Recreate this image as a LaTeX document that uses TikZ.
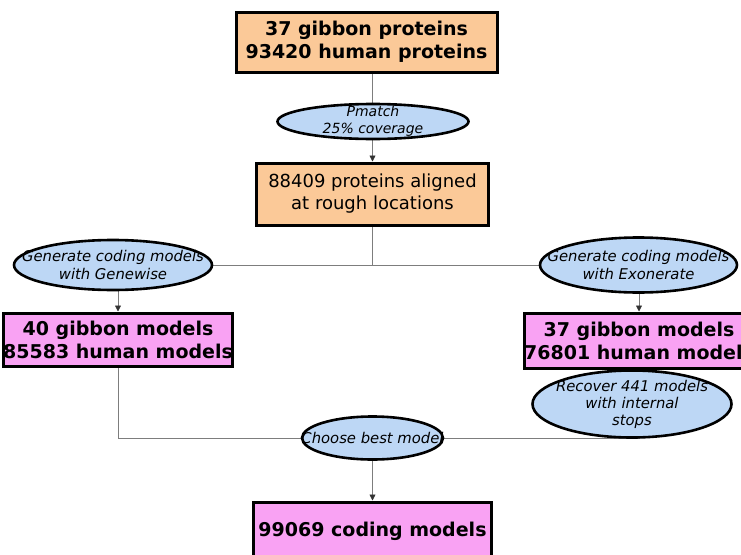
\documentclass[tikz,border=0pt]{standalone}
\usepackage{fontspec}
\setmainfont{DejaVu Sans}[ItalicFont={DejaVu Sans Oblique},BoldFont={DejaVu Sans Bold}]
\usetikzlibrary{positioning, arrows.meta, shapes.geometric, backgrounds}
\definecolor{inputfill}{RGB}{251,201,152}
\definecolor{modelfill}{RGB}{249,162,243}
\definecolor{stepfill}{RGB}{189,215,245}
\definecolor{linkgray}{RGB}{125,125,125}
\tikzset{
  gbbox/.style   = {draw, line width=3pt, fill=inputfill, align=center,
                    inner sep=0pt, font=\bfseries\fontsize{19}{23}\selectfont},
  gbmodel/.style = {gbbox, fill=modelfill},
  gbstep/.style  = {draw, ellipse, line width=2.6pt, fill=stepfill, align=center,
                    inner xsep=-40pt, inner ysep=-12pt,
                    font=\itshape\fontsize{14.8}{18}\selectfont},
  gblink/.style  = {draw=linkgray, line width=0.8pt},
  gbarrow/.style = {gblink, -{Triangle[length=6pt,width=6pt,color=black!80]}}
}

\begin{document}
\begin{tikzpicture}[x=1pt, y=-1pt]
  \useasboundingbox (0,0) rectangle (741,554);

  \node[gbbox, minimum width=261pt, minimum height=60pt] (inp) at (366.5,42)
        {37 gibbon proteins\\93420 human proteins};
  \node[gbstep, font=\itshape\fontsize{14}{17}\selectfont,
        minimum width=191pt, minimum height=35pt] (pm) at (373,121.5)
        {Pmatch\\25\% coverage};
  \node[gbbox, font=\fontsize{18}{22}\selectfont,
        minimum width=232pt, minimum height=62pt] (aln) at (372.5,194)
        {88409 proteins aligned\\at rough locations};

  \node[gbstep, minimum width=198pt, minimum height=50pt] (gw) at (113,265)
        {Generate coding models\\with Genewise};
  \node[gbstep, minimum width=197pt, minimum height=55pt] (ex) at (638.5,265)
        {Generate coding models\\with Exonerate};

  \node[gbmodel, minimum width=220pt, minimum height=53pt] (gwm) at (118,339.5)
        {40 gibbon models\\85583 human models};
  \node[gbmodel, minimum width=222pt, minimum height=55pt] (exm) at (639,340.5)
        {37 gibbon models\\76801 human models};
  \node[gbstep, font=\itshape\fontsize{14.8}{17}\selectfont,
        minimum width=199pt, minimum height=67pt] (rec) at (632,404)
        {Recover 441 models\\with internal\\stops};

  \node[gbstep, minimum width=141pt, minimum height=43pt] (best) at (372.5,438)
        {Choose best model};
  \node[gbmodel, minimum width=238pt, minimum height=58pt] (out) at (372.5,531)
        {99069 coding models};

  \begin{scope}[on background layer]
    \draw[gbarrow] (inp.south -| aln.north) -- (aln.north);
    \draw[gblink]  (aln.south) -- (aln.south |- gw);
    \draw[gblink]  (gw) -- (ex);
    \draw[gbarrow] (gwm.north |- gw) -- (gwm.north);
    \draw[gbarrow] (exm.north |- ex) -- (exm.north);
    \draw[gblink]  (gwm.south) |- (best);
    \draw[gblink]  (exm.south) |- (best);
    \draw[gbarrow] (best) -- (out);
  \end{scope}
\end{tikzpicture}
\end{document}
